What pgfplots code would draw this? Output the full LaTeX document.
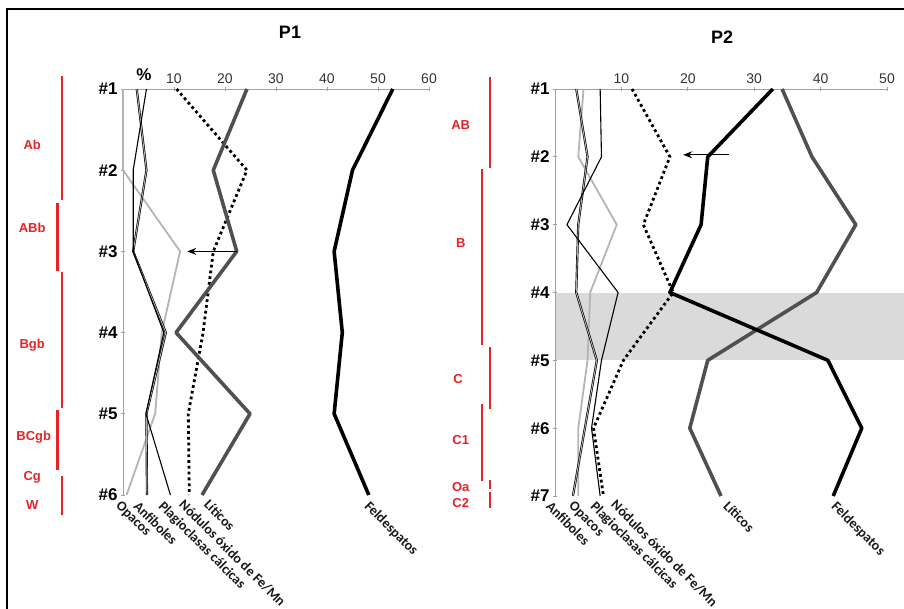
\documentclass[border=0pt]{standalone}
\usepackage{fontspec}
\setmainfont{Liberation Sans}
\newfontfamily\calib{Carlito}
\usepackage{pgfplots}
\pgfplotsset{compat=1.18}
\usetikzlibrary{arrows.meta}
\definecolor{hred}{RGB}{228,36,40}
\definecolor{litgray}{RGB}{80,80,80}
\definecolor{opgray}{RGB}{180,180,180}
\definecolor{axgray}{RGB}{160,160,160}
\definecolor{bandgray}{RGB}{218,218,218}
\pgfplotsset{
 prof/.style={scale only axis, axis x line*=top, axis y line*=left, enlargelimits=false, clip=false,
  axis line style={axgray, line width=0.9pt}, tick style={axgray, line width=0.8pt},
  major tick length=4pt, tick align=center,
  /pgf/number format/assume math mode=true,
  xticklabel style={font=\fontsize{14}{14}\selectfont, text=black!80},
  yticklabel style={font=\bfseries\fontsize{17}{17}\selectfont, text=black}},
 feld/.style={black, line width=3.6pt, line join=round},
 lit/.style={litgray, line width=3.6pt, line join=round},
 nod/.style={black, line width=2.8pt, dash pattern=on 2.8pt off 3.0pt},
 opa/.style={opgray, line width=1.8pt},
 anf/.style={black, line width=0.65pt, double=gray!60, double distance=0.9pt},
 pla/.style={black, line width=1.1pt},
 hz/.style={hred, line width=2.6pt},
}
\tikzset{
 hzl/.style={text=hred, font=\bfseries\fontsize{13}{13}\selectfont},
 cat/.style={font=\calib\bfseries\fontsize{14}{14}\selectfont, rotate=-45, anchor=north west, inner sep=0pt, text=black!90},
}
\begin{document}
\begin{tikzpicture}
\useasboundingbox (0pt,0pt) rectangle (904pt,-609pt);
\draw[line width=2.5pt] (7pt,-609pt) -- (7pt,-9pt) -- (904pt,-9pt);
\node[font=\bfseries\fontsize{18}{18}\selectfont] at (290pt,-32pt) {P1};
\node[font=\bfseries\fontsize{18}{18}\selectfont] at (722pt,-37pt) {P2};
\node[font=\bfseries\fontsize{17}{17}\selectfont] at (144pt,-75pt) {\%};
% ---------------- P1 ----------------
\begin{axis}[prof, at={(123pt,-495pt)}, anchor=south west, width=306pt, height=406pt,
  xmin=0, xmax=60, ymin=-6, ymax=-1,
  xtick={10,20,30,40,50,60},
  ytick={-6,-5,-4,-3,-2,-1}, yticklabels={\#6,\#5,\#4,\#3,\#2,\#1}]
\addplot[hz] coordinates {(-12,-0.84) (-12,-2.37)};
\addplot[hz] coordinates {(-12.9,-2.40) (-12.9,-3.24)};
\addplot[hz] coordinates {(-12,-3.25) (-12,-4.93)};
\addplot[hz] coordinates {(-12.9,-4.95) (-12.9,-5.69)};
\addplot[hz] coordinates {(-12,-5.77) (-12,-6.25)};
\node[hzl] at (axis cs:-17.8,-1.69) {Ab};
\node[hzl] at (axis cs:-17.8,-2.71) {ABb};
\node[hzl] at (axis cs:-17.8,-4.15) {Bgb};
\node[hzl] at (axis cs:-17.5,-5.29) {BCgb};
\node[hzl] at (axis cs:-17.8,-5.78) {Cg};
\node[hzl] at (axis cs:-17.8,-6.12) {W};
% Opacos
\addplot[opa] coordinates {(0,-1) (0,-2) (11.2,-3) (7.6,-4) (6.3,-5) (0.7,-6)};
% Anfiboles
\addplot[anf] coordinates {(2.7,-1) (4.6,-2) (2.0,-3) (8.4,-4) (4.6,-5) (4.7,-6)};
% Plagioclasas calcicas
\addplot[pla] coordinates {(4.6,-1) (2.0,-2) (2.0,-3) (8.0,-4) (4.5,-5) (9.3,-6)};
% Nodulos
\addplot[nod] coordinates {(10.5,-1) (24.3,-2) (17.7,-3) (15.7,-4) (12.8,-5) (13.0,-6)};
% Liticos
\addplot[lit] coordinates {(24.3,-1) (17.7,-2) (22.3,-3) (10.4,-4) (24.9,-5) (15.5,-6)};
% Feldespatos
\addplot[feld] coordinates {(52.9,-1) (45.0,-2) (41.4,-3) (43.0,-4) (41.4,-5) (48.2,-6)};
\draw[-{Stealth[length=9pt,width=7pt]}, line width=1.2pt] (axis cs:22.3,-3) -- (axis cs:12.6,-3);
\node[cat] at (axis cs:-0.2,-6.06) {Opacos};
\node[cat] at (axis cs:3.3,-6.06) {Anfiboles};
\node[cat] at (axis cs:8.2,-6.06) {Plagioclasas cálcicas};
\node[cat] at (axis cs:12.2,-6.04) {Nódulos óxido de Fe/Mn};
\node[cat] at (axis cs:17.1,-6.04) {Líticos};
\node[cat] at (axis cs:48.6,-6.06) {Feldespatos};
\end{axis}
% ---------------- P2 ----------------
\begin{axis}[prof, at={(555pt,-496pt)}, anchor=south west, width=332pt, height=407pt,
  xmin=0, xmax=50, ymin=-7, ymax=-1,
  xtick={10,20,30,40,50},
  ytick={-7,-6,-5,-4,-3,-2,-1}, yticklabels={\#7,\#6,\#5,\#4,\#3,\#2,\#1}]
\addplot[fill=bandgray, draw=none] coordinates {(0.1,-4) (52.6,-4) (52.6,-5) (0.1,-5)} -- cycle;
\addplot[hz] coordinates {(-9.8,-0.82) (-9.8,-2.17)};
\addplot[hz] coordinates {(-11,-2.18) (-11,-4.78)};
\addplot[hz] coordinates {(-9.8,-4.81) (-9.8,-5.72)};
\addplot[hz] coordinates {(-11,-5.65) (-11,-6.78)};
\addplot[hz] coordinates {(-9.8,-6.77) (-9.8,-6.90)};
\addplot[hz] coordinates {(-9.8,-6.94) (-9.8,-7.17)};
\node[hzl] at (axis cs:-14.2,-1.53) {AB};
\node[hzl] at (axis cs:-14.2,-3.27) {B};
\node[hzl] at (axis cs:-14.6,-5.28) {C};
\node[hzl] at (axis cs:-14.2,-6.18) {C1};
\node[hzl] at (axis cs:-14.2,-6.87) {Oa};
\node[hzl] at (axis cs:-14.2,-7.10) {C2};
% Opacos
\addplot[opa] coordinates {(4.3,-1) (3.5,-2) (9.3,-3) (5.3,-4) (4.9,-5) (3.5,-6) (3.5,-7)};
% Anfiboles
\addplot[anf] coordinates {(3.2,-1) (4.9,-2) (3.5,-3) (3.2,-4) (6.3,-5) (4.5,-6) (2.7,-7)};
% Plagioclasas
\addplot[pla] coordinates {(6.8,-1) (7.0,-2) (1.8,-3) (9.5,-4) (7.0,-5) (5.5,-6) (6.8,-7)};
% Nodulos
\addplot[nod] coordinates {(11.6,-1) (17.3,-2) (13.3,-3) (17.8,-4) (10.3,-5) (5.8,-6) (7.3,-7)};
% Liticos
\addplot[lit] coordinates {(34.2,-1) (38.7,-2) (45.3,-3) (39.4,-4) (23.0,-5) (20.3,-6) (25.0,-7)};
% Feldespatos
\addplot[feld] coordinates {(32.8,-1) (23.0,-2) (22.0,-3) (17.3,-4) (41.1,-5) (46.2,-6) (41.9,-7)};
\draw[-{Stealth[length=9pt,width=7pt]}, line width=1.2pt] (axis cs:26.2,-1.97) -- (axis cs:19.3,-1.97);
\node[cat] at (axis cs:-0.4,-7.06) {Anfiboles};
\node[cat] at (axis cs:3.0,-7.06) {Opacos};
\node[cat] at (axis cs:6.3,-7.06) {Plagioclasas cálcicas};
\node[cat] at (axis cs:9.4,-7.04) {Nódulos óxido de Fe/Mn};
\node[cat] at (axis cs:26.3,-7.06) {Líticos};
\node[cat] at (axis cs:42.6,-7.06) {Feldespatos};
\end{axis}
\end{tikzpicture}
\end{document}
